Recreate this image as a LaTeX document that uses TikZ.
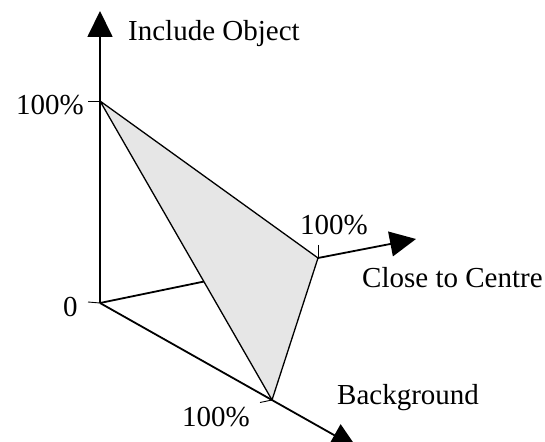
\documentclass[tikz,border=0pt]{standalone}
\usepackage{fontspec}
\setmainfont{Liberation Serif}
\usetikzlibrary{arrows.meta}
\begin{document}
\begin{tikzpicture}[x=1pt,y=1pt,
  axis/.style={line width=1.8pt},
  axisarrow/.style={axis,-{Triangle[length=26pt,width=25pt]}},
  edge/.style={line width=1.3pt,line join=round},
  tick/.style={line width=0.9pt},
  lbl/.style={inner sep=0pt,anchor=base west,font=\fontsize{29}{34}\selectfont}]
\clip (0,0) rectangle (545,441);
\coordinate (O) at (100,138);
\coordinate (I) at (100,340);
\coordinate (Itop) at (100,430);
\coordinate (C) at (318,183);
\coordinate (Cend) at (416,202);
\coordinate (B) at (272,41);
\coordinate (Bend) at (357,-7);
\coordinate (It) at (88,340);
\coordinate (Ot) at (88,139);
\coordinate (Ct) at (318,196);
\coordinate (Bt) at (260,38.5);
% axes
\draw[axisarrow] (O) -- (Itop);
\draw[axis] (O) -- (C);
\draw[axisarrow] (C) -- (Cend);
\draw[axisarrow] (O) -- (Bend);
% ticks
\draw[tick] (It) -- (I);
\draw[tick] (Ot) -- (O);
\draw[tick] (Ct) -- (C);
\draw[tick] (Bt) -- (B);
% plane
\filldraw[edge,fill={rgb,255:red,230;green,230;blue,230}] (I) -- (C) -- (B) -- cycle;
% labels
\node[lbl] (incl) at (128,400) {Include Object};
\node[lbl,anchor=base east] (i100) at (84,326) {100\%};
\node[lbl] (zero) at (63,124) {0};
\node[lbl] (c100) at (300,206) {100\%};
\node[lbl] (close) at (362,153) {Close to Centre};
\node[lbl] (back) at (337,36) {Background};
\node[lbl] (b100) at (182,15) {100\%};
\end{tikzpicture}
\end{document}
